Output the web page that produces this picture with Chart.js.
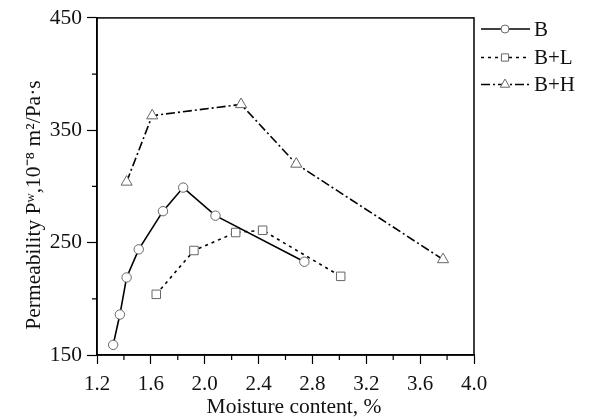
<!DOCTYPE html>
<html>
<head>
<meta charset="utf-8">
<script src="https://cdn.jsdelivr.net/npm/chart.js@4"></script>
<style>
  html, body { margin: 0; padding: 0; background: #fff; }
  #wrap { width: 589px; height: 420px; }
</style>
</head>
<body>
<div id="wrap"><canvas id="myChart" width="589" height="420"></canvas></div>
<script>
// moisture content (%) and permeability
const bMoist = [1.32, 1.37, 1.42, 1.51, 1.69, 1.84, 2.08, 2.74];
const bPerm = [159, 186, 219, 244, 278, 299, 274, 233];
const blMoist = [1.64, 1.92, 2.23, 2.43, 3.01];
const blPerm = [204, 243, 259, 261, 220];
const bhMoist = [1.42, 1.61, 2.27, 2.68, 3.77];
const bhPerm = [304, 363, 373, 320, 235];

const seriesNames = ['B', 'B+L', 'B+H'];
const xTicks = [1.2, 1.6, 2.0, 2.4, 2.8, 3.2, 3.6, 4.0];
const xTitle = 'Moisture content, %';
const yTitle = 'Permeability P\u02b7,10\u207b\u2078 m\u00b2/Pa\u00b7s';

const serif = "'Liberation Serif', 'Times New Roman', serif";

function toPoints(xs, ys) {
    return xs.map((x, i) => ({ x: x, y: ys[i] }));
}

function makeSet(label, xs, ys, style, size, dash) {
    return {
        label: label,
        data: toPoints(xs, ys),
        showLine: true,
        borderColor: '#000',
        borderWidth: 1.6,
        borderDash: dash,
        pointStyle: style,
        pointRadius: size,
        pointBorderColor: '#666',
        pointBackgroundColor: '#fff',
        pointBorderWidth: 1
    };
}

const datasets = [
    makeSet(seriesNames[0], bMoist, bPerm, 'circle', 4.7, []),
    makeSet(seriesNames[1], blMoist, blPerm, 'rect', 6, [3, 4]),
    makeSet(seriesNames[2], bhMoist, bhPerm, 'triangle', 6.4, [9, 3, 2, 3])
];

function drawMarker(ctx, style, r, x, y) {
    ctx.save();
    ctx.setLineDash([]);
    ctx.fillStyle = '#fff';
    ctx.strokeStyle = '#666';
    ctx.lineWidth = 1;
    ctx.beginPath();
    if (style === 'circle') {
        ctx.arc(x, y, r, 0, Math.PI * 2);
    } else if (style === 'rect') {
        const s = r * Math.SQRT1_2;
        ctx.rect(x - s, y - s, s * 2, s * 2);
    } else {
        ctx.moveTo(x, y - r);
        ctx.lineTo(x + r * 0.866, y + r * 0.5);
        ctx.lineTo(x - r * 0.866, y + r * 0.5);
        ctx.closePath();
    }
    ctx.fill();
    ctx.stroke();
    ctx.restore();
}

const decor = {
    id: 'decor',
    afterDraw(chart) {
        const ctx = chart.ctx;
        const a = chart.chartArea;
        const xs = chart.scales.x;
        const ys = chart.scales.y;
        ctx.save();
        // frame
        ctx.strokeStyle = '#000';
        ctx.lineWidth = 1.5;
        ctx.strokeRect(a.left, a.top, a.right - a.left, a.bottom - a.top);
        // minor ticks
        ctx.lineWidth = 1.2;
        ctx.beginPath();
        for (let v = 1.4; v < 4.0; v += 0.4) {
            const px = xs.getPixelForValue(v);
            ctx.moveTo(px, a.bottom);
            ctx.lineTo(px, a.bottom + 5);
        }
        for (let v = 200; v < 450; v += 100) {
            const py = ys.getPixelForValue(v);
            ctx.moveTo(a.left, py);
            ctx.lineTo(a.left - 5, py);
        }
        ctx.stroke();
        // axis titles
        ctx.fillStyle = '#111';
        ctx.font = '21.5px ' + serif;
        ctx.textAlign = 'center';
        ctx.textBaseline = 'middle';
        ctx.fillText(xTitle, 294, 407);
        ctx.save();
        ctx.translate(34, 205);
        ctx.rotate(-Math.PI / 2);
        ctx.fillText(yTitle, 0, 0);
        ctx.restore();
        // legend
        ctx.textAlign = 'left';
        ctx.font = '21px ' + serif;
        const rows = [29, 57.5, 84.5];
        chart.data.datasets.forEach((ds, i) => {
            const y = rows[i];
            ctx.save();
            ctx.strokeStyle = '#000';
            ctx.lineWidth = 1.5;
            ctx.setLineDash(ds.borderDash);
            ctx.beginPath();
            ctx.moveTo(481, y);
            ctx.lineTo(530, y);
            ctx.stroke();
            ctx.restore();
            drawMarker(ctx, ds.pointStyle, ds.pointRadius * 0.85, 505, y);
            ctx.fillText(ds.label, 534, y + 1);
        });
        ctx.restore();
    }
};

new Chart(document.getElementById('myChart').getContext('2d'), {
    type: 'scatter',
    data: { datasets: datasets },
    options: {
        responsive: false,
        animation: false,
        layout: { padding: { top: 15, right: 115, left: 0, bottom: 0 } },
        plugins: {
            legend: { display: false },
            tooltip: { enabled: false }
        },
        scales: {
            x: {
                type: 'linear',
                min: 1.2,
                max: 4.0,
                afterFit: s => { s.height = 65; },
                afterBuildTicks: s => {
                    s.ticks = xTicks.map(v => ({ value: v }));
                },
                border: { color: '#000', width: 1.5 },
                grid: { drawOnChartArea: false, tickLength: 9, tickColor: '#000', tickWidth: 1.2 },
                ticks: {
                    color: '#111',
                    padding: 8,
                    font: { family: serif, size: 21 },
                    callback: v => v.toFixed(1)
                }
            },
            y: {
                min: 150,
                max: 450,
                afterFit: s => { s.width = 97; },
                border: { color: '#000', width: 1.5 },
                grid: { drawOnChartArea: false, tickLength: 10, tickColor: '#000', tickWidth: 1.2 },
                ticks: {
                    stepSize: 100,
                    color: '#111',
                    padding: 5,
                    font: { family: serif, size: 21.5 }
                }
            }
        }
    },
    plugins: [decor]
});
</script>
</body>
</html>
